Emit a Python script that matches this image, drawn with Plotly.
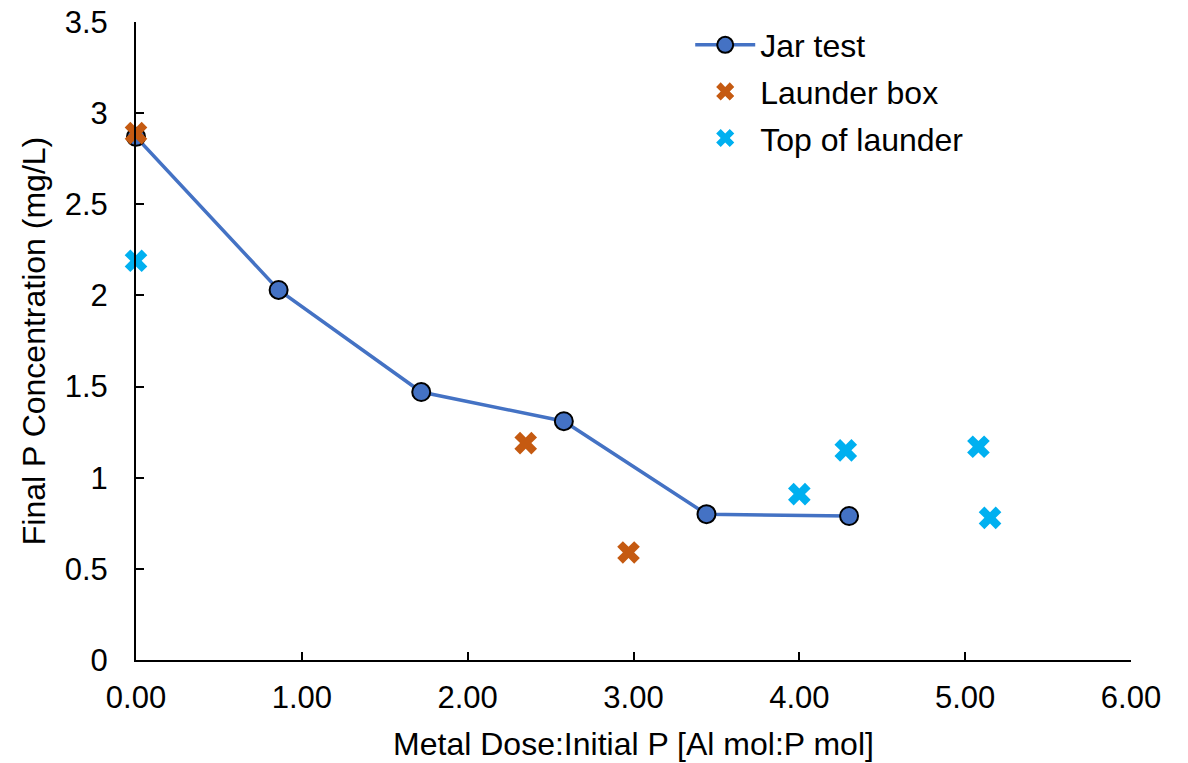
import plotly.graph_objects as go

jar_x = [0.00, 0.86, 1.72, 2.58, 3.44, 4.30]
jar_y = [2.87, 2.03, 1.47, 1.31, 0.80, 0.79]

box_x = [0.00, 2.35, 2.97]
box_y = [2.89, 1.19, 0.59]

top_x = [0.00, 4.00, 4.28, 5.08, 5.15]
top_y = [2.19, 0.91, 1.15, 1.17, 0.78]

FONT = "Liberation Sans, Arial, sans-serif"

fig = go.Figure()
fig.add_trace(go.Scatter(
    x=jar_x, y=jar_y, mode="lines+markers", name="Jar test", legendgroup="a",
    line=dict(color="#4472C4", width=3.5), cliponaxis=False,
    marker=dict(symbol="circle", size=18, color="#4472C4", line=dict(color="black", width=2)),
))
fig.add_trace(go.Scatter(
    x=box_x, y=box_y, mode="markers", name="Launder box", legendgroup="b",
    cliponaxis=False,
    marker=dict(symbol="x", size=20, color="#C55A11", line=dict(width=0)),
))
fig.add_trace(go.Scatter(
    x=top_x, y=top_y, mode="markers", name="Top of launder", legendgroup="c",
    cliponaxis=False,
    marker=dict(symbol="x", size=20, color="#00B0F0", line=dict(width=0)),
))

fig.update_layout(
    width=1188, height=763,
    margin=dict(l=136, r=57, t=22, b=103, autoexpand=False),
    paper_bgcolor="white", plot_bgcolor="white",
    font=dict(family=FONT, size=32, color="black"),
    showlegend=True,
    legend=dict(x=0.557, y=1.007, xanchor="left", yanchor="top", itemwidth=60,
                bgcolor="rgba(0,0,0,0)", font=dict(size=32), tracegroupgap=2),
    xaxis=dict(range=[0, 6], dtick=1, tickformat=".2f", ticks="inside",
               ticklen=8, tickwidth=2, tickcolor="black",
               showline=True, linecolor="black", linewidth=2,
               showgrid=False, zeroline=False, automargin=False,
               ticklabelstandoff=9, ticklabeloverflow="allow",
               title=dict(text="Metal Dose:Initial P [Al mol:P mol]", standoff=18,
                          font=dict(size=32)),
               tickfont=dict(size=31)),
    yaxis=dict(range=[0, 3.5], dtick=0.5, ticks="inside",
               ticklen=8, tickwidth=2, tickcolor="black",
               showline=True, linecolor="black", linewidth=2,
               showgrid=False, zeroline=False, automargin=False,
               ticklabelstandoff=20, ticklabeloverflow="allow",
               title=dict(text="Final P Concentration (mg/L)", standoff=9,
                          font=dict(size=32)),
               tickfont=dict(size=31)),
)

fig.write_html("out.html", config={"displayModeBar": False},
               post_script="document.body.style.margin='0';")
